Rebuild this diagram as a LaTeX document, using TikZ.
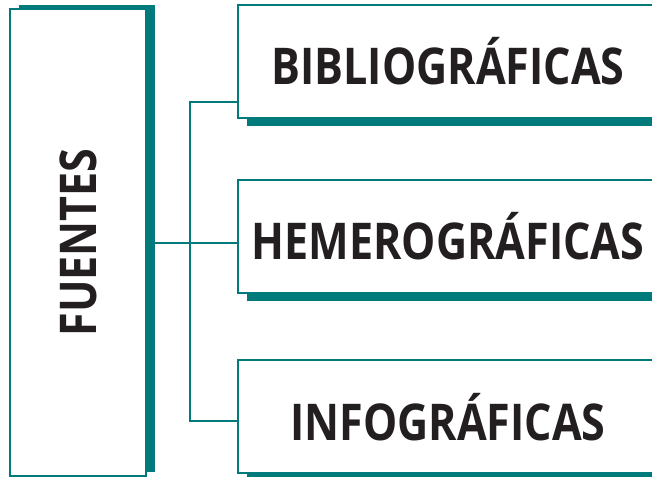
\documentclass[tikz,border=0pt]{standalone}
\usepackage{fontspec}
\setmainfont{Open Sans}[FakeStretch=0.85]
\usetikzlibrary{positioning,shadows}
\definecolor{petrol}{HTML}{007A7A}
\definecolor{ink}{HTML}{231F20}
\tikzset{
  srcbox/.style={draw=petrol,fill=white,line width=1.5pt,
    font=\fontsize{38}{40}\selectfont\bfseries\color{ink},align=center},
  mainbox/.style={srcbox,minimum width=102pt,minimum height=350pt,
    general shadow={fill=petrol,shadow xshift=6.4pt,shadow yshift=3pt}},
  typebox/.style={srcbox,minimum width=315pt,minimum height=84.75pt,
    general shadow={fill=petrol,shadow xshift=6.6pt,shadow yshift=-6pt}},
  link/.style={draw=petrol,line width=1.5pt},
}

\begin{document}
\begin{tikzpicture}[x=0.75pt,y=-0.75pt]
  \useasboundingbox (0,0) rectangle (652,477);

  \node[mainbox] (fuentes) at (78,242.5) {\rotatebox{90}{FUENTES}};

  \node[typebox] (bib) at (448,61.5) {BIBLIOGRÁFICAS};
  \node[typebox,below=45pt of bib] (hemero) {HEMEROGRÁFICAS};
  \node[typebox,below=49pt of hemero] (info) {INFOGRÁFICAS};

  % tree branches
  \coordinate (split) at (190,244);
  \draw[link] (fuentes.east) -- (fuentes.east -| hemero.west);
  \draw[link] ([yshift=12.75pt]bib.south west) -| (split)
    |- ([yshift=-3pt]info.west);
\end{tikzpicture}
\end{document}
